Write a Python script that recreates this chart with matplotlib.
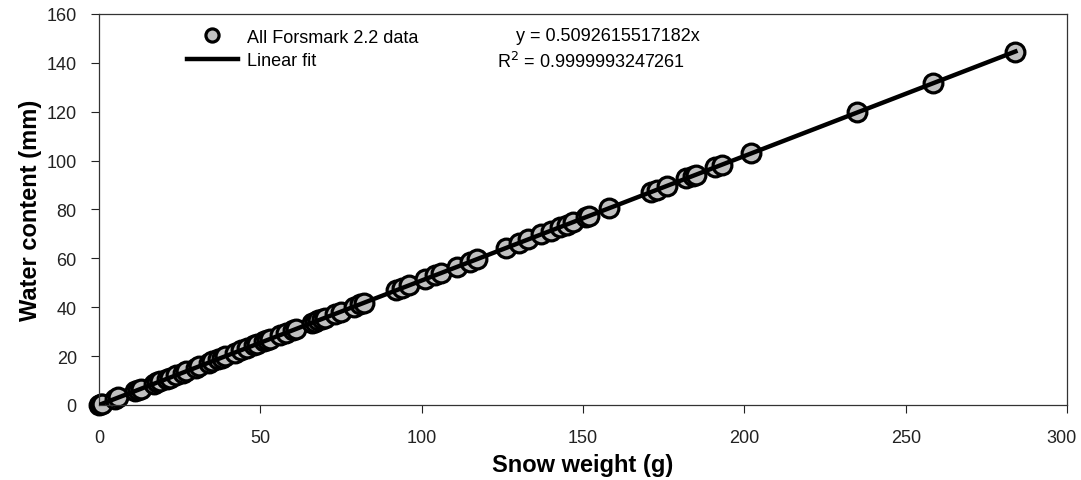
import numpy as np
import matplotlib
matplotlib.use("Agg")
import matplotlib.pyplot as plt
from matplotlib.transforms import ScaledTranslation

plt.rcParams['font.family'] = ['Liberation Sans', 'DejaVu Sans']

# snow weight (g) and water content (mm)
snow_weight = [0, 0.5, 1, 5, 6, 11, 12, 13, 17, 18, 19, 21, 22, 24, 26, 27, 30, 31,
               34, 35, 37, 38, 39, 42, 44, 46, 48, 49, 51, 52, 53, 56, 58, 60, 61,
               66, 67, 68, 69, 70, 73, 75, 79, 81, 82, 92, 94, 96, 101, 104, 106,
               111, 115, 117, 126, 130, 133, 137, 140, 143, 145, 147, 151, 152,
               158, 171, 173, 176, 182, 184, 185, 191, 193, 202, 235, 258.5, 284]
water_content = [0, 0.3, 0.5, 2.5, 3.1, 5.6, 6.1, 6.6, 8.7, 9.2, 9.7, 10.7, 11.2,
                 12.2, 13.2, 13.7, 15.3, 15.8, 17.3, 17.8, 18.8, 19.4, 19.9, 21.4,
                 22.4, 23.4, 24.4, 25.0, 26.0, 26.5, 27.0, 28.5, 29.5, 30.6, 31.1,
                 33.6, 34.1, 34.6, 35.1, 35.6, 37.2, 38.2, 40.2, 41.2, 41.8, 46.9,
                 47.9, 48.9, 51.4, 53.0, 54.0, 56.5, 58.6, 59.6, 64.2, 66.2, 67.7,
                 69.8, 71.3, 72.8, 73.8, 74.9, 76.9, 77.4, 80.5, 87.1, 88.1, 89.6,
                 92.7, 93.7, 94.2, 97.3, 98.3, 102.9, 119.7, 131.6, 144.6]
slope = 0.5092615517182
r2 = 0.9999993247261

fig = plt.figure(figsize=(10.81, 4.81), dpi=100)
ax = fig.add_axes([0.0916, 0.156, 0.8955, 0.813])

ax.plot(snow_weight, water_content, 'o', ms=13.5, mfc='#c0c0c0', mec='black',
        mew=2.3, label='All Forsmark 2.2 data', zorder=2, clip_on=False)
fit_x = np.array([0, max(snow_weight)])
ax.plot(fit_x, slope * fit_x, color='black', lw=3.2, label='Linear fit', zorder=3)

ax.set_xlim(0, 300)
ax.set_ylim(0, 160)
ax.set_xticks(range(0, 301, 50))
ax.set_yticks(range(0, 161, 20))
ax.tick_params(direction='out', length=6, labelsize=13, colors='#222222')
ax.tick_params(axis='x', pad=11)
ax.tick_params(axis='y', pad=10)
for s in ax.spines.values():
    s.set_linewidth(0.9)
    s.set_color('#333333')

# nudge the last x label so it stays inside the figure
last = ax.xaxis.get_major_ticks()[-1]
last.label1.set_transform(last.label1.get_transform() +
                          ScaledTranslation(-4 / 72, 0, fig.dpi_scale_trans))

ax.set_xlabel('Snow weight (g)', fontsize=17, fontweight='bold', labelpad=5)
ax.set_ylabel('Water content (mm)', fontsize=17, fontweight='bold', labelpad=3)

leg = ax.legend(loc='upper left', bbox_to_anchor=(0.091, 0.962), frameon=False,
                fontsize=13, handlelength=2.8, handletextpad=0.5, labelspacing=0.35,
                markerscale=0.7, borderpad=0, borderaxespad=0)

ax.text(0.431, 0.946, 'y = %.13fx' % slope, transform=ax.transAxes, fontsize=13,
        va='center')
ax.text(0.411, 0.880, 'R$^2$ = %.13f' % r2, transform=ax.transAxes, fontsize=13,
        va='center')

fig.savefig('out.png', dpi=100)
